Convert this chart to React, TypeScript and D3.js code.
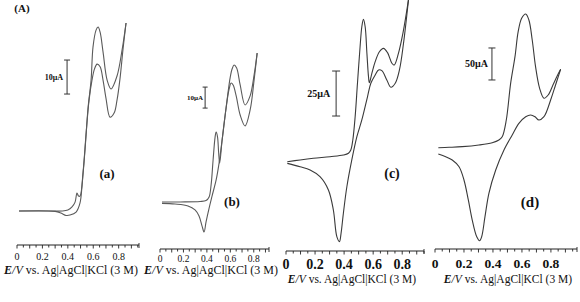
import React from "react";
import * as d3 from "d3";

type Pt = [number, number];

// potential (V) vs current (µA) for each voltammogram
const aForward: Pt[] = [
  [0.016, 0], [0.26, 0], [0.354, 0], [0.4, 0.3], [0.433, 1.2], [0.457, 2.6], [0.472, 5.3],
  [0.484, 4.4], [0.496, 4.4], [0.52, 11.5], [0.543, 22.4], [0.567, 32.6], [0.59, 38.5],
  [0.61, 41.8], [0.63, 43.2], [0.654, 42.4], [0.677, 38.5], [0.7, 33.2], [0.732, 27.6],
  [0.764, 28.8], [0.787, 32.6], [0.811, 39.1], [0.835, 47.9], [0.858, 55.3],
];
const aReverse: Pt[] = [
  [0.858, 55.3], [0.827, 47.4], [0.787, 39.7], [0.74, 35.9], [0.709, 38.5], [0.677, 46.8],
  [0.654, 52.6], [0.638, 54.1], [0.622, 53.2], [0.598, 48.2], [0.583, 38.5], [0.559, 30.3],
  [0.535, 17.9], [0.512, 7.6], [0.496, 2.4], [0.465, -0.3], [0.417, -1.2], [0.386, -1.3],
  [0.346, -0.6], [0.3, -0.1], [0.016, 0],
];
const bForward: Pt[] = [
  [0.017, 0.5], [0.171, 0.5], [0.342, 0.7], [0.393, 1.2], [0.419, 2.9], [0.436, 8.6],
  [0.453, 20.5], [0.47, 31.4], [0.479, 33.8], [0.491, 31.4], [0.5, 24.3], [0.509, 19.0],
  [0.53, 30], [0.556, 41.9], [0.581, 52.9], [0.598, 59.5], [0.615, 63.8], [0.632, 65.7],
  [0.654, 64.3], [0.684, 56.2], [0.726, 46.7], [0.769, 51], [0.803, 61], [0.829, 71.4],
];
const bReverse: Pt[] = [
  [0.829, 71.4], [0.803, 58.6], [0.769, 44.3], [0.726, 36.7], [0.684, 41.9], [0.65, 51],
  [0.624, 56.2], [0.607, 57.1], [0.59, 54.3], [0.564, 45.2], [0.53, 30], [0.504, 19],
  [0.479, 11], [0.444, 3.3], [0.419, -2.4], [0.393, -9], [0.376, -13.8], [0.359, -11],
  [0.333, -6.2], [0.299, -3.3], [0.239, -1.4], [0.128, -0.5], [0.017, -0.2],
];
const cForward: Pt[] = [
  [0.009, 0.7], [0.097, 1.7], [0.188, 2.6], [0.303, 3.5], [0.395, 4.4], [0.43, 5.4],
  [0.446, 7.2], [0.46, 12.8], [0.476, 25.7], [0.492, 44.3], [0.51, 64.6], [0.522, 75.7],
  [0.533, 79.8], [0.545, 75.7], [0.557, 60.9], [0.568, 47.9], [0.574, 44.6], [0.591, 49.8],
  [0.614, 56.3], [0.643, 61.8], [0.671, 63.7], [0.699, 61.3], [0.729, 55.4], [0.745, 54.4],
  [0.774, 60.9], [0.805, 72.1], [0.843, 90.6],
];
const cReverse: Pt[] = [
  [0.843, 90.6], [0.809, 66.5], [0.781, 51.7], [0.752, 44.3], [0.722, 42.1], [0.694, 46.1],
  [0.66, 51.3], [0.637, 51.7], [0.614, 48.9], [0.584, 44.3], [0.561, 36.8], [0.522, 23.9],
  [0.488, 14.6], [0.453, 1.7], [0.419, -13.2], [0.395, -27.9], [0.379, -39.1], [0.368, -43.7],
  [0.35, -40.9], [0.326, -26.1], [0.292, -15], [0.234, -7.6], [0.166, -3.9], [0.097, -2.1],
  [0.009, -0.2],
];
const dForward: Pt[] = [
  [0.023, 3.6], [0.097, 4.2], [0.188, 5.2], [0.303, 7.8], [0.395, 11.4], [0.441, 15.6],
  [0.464, 20.8], [0.492, 46.9], [0.522, 104.2], [0.552, 145.8], [0.574, 184.8], [0.598, 205.8],
  [0.626, 212.5], [0.648, 203.1], [0.671, 171.9], [0.694, 130.2], [0.722, 96.4], [0.752, 80.8],
  [0.781, 85.9], [0.814, 101.6], [0.843, 115.6], [0.867, 126.1],
];
const dReverse: Pt[] = [
  [0.867, 126.1], [0.832, 101.6], [0.798, 78.1], [0.752, 52], [0.717, 46.9], [0.69, 52],
  [0.66, 54.7], [0.626, 52], [0.579, 41.7], [0.533, 23.4], [0.476, 0], [0.419, -31.3],
  [0.372, -67.7], [0.345, -104.2], [0.322, -135.5], [0.308, -141.7], [0.288, -135.5],
  [0.257, -109.4], [0.23, -78.1], [0.2, -46.9], [0.166, -26.1], [0.119, -15.6], [0.074, -10.5],
  [0.023, -6.3],
];

const tickValues = [0, 0.2, 0.4, 0.6, 0.8];
const tickLabels = ["0", "0.2", "0.4", "0.6", "0.8"];
const panelLabels = ["(a)", "(b)", "(c)", "(d)"];
const scaleBarValues = [10, 10, 25, 50];
const scaleBarLabels = ["10µA", "10µA", "25µA", "50µA"];
const traces: Pt[][][] = [
  [aForward, aReverse],
  [bForward, bReverse],
  [cForward, cReverse],
  [dForward, dReverse],
];

const layouts = [
  { x0: 17, x1: 139, eMax: 0.96, yBase: 211, ppu: 3.4, axisY: 245, tickY: 260, tickSize: 10, tickBold: false,
    titleX: 71, titleY: 274, titleSize: 12, labelX: 107, labelY: 178, labelSize: 13,
    barE: 0.394, barI: 34.4, cap: 3, barLabelSize: 8, barGap: 4, color: "#5a5a5a" },
  { x0: 160, x1: 269, eMax: 0.93, yBase: 203, ppu: 2.1, axisY: 249, tickY: 262, tickSize: 9.5, tickBold: false,
    titleX: 211, titleY: 274, titleSize: 12, labelX: 232, labelY: 206, labelSize: 13,
    barE: 0.385, barI: 45.2, cap: 2.5, barLabelSize: 7, barGap: 2, color: "#5a5a5a" },
  { x0: 286, x1: 424, eMax: 0.95, yBase: 163, ppu: 1.8, axisY: 251, tickY: 269, tickSize: 14, tickBold: true,
    titleX: 352, titleY: 283, titleSize: 11.5, labelX: 392, labelY: 178, labelSize: 14,
    barE: 0.345, barI: 26.1, cap: 4, barLabelSize: 10, barGap: 6, color: "#3a3a3a" },
  { x0: 435, x1: 577, eMax: 0.98, yBase: 150, ppu: 0.64, axisY: 249, tickY: 268, tickSize: 13.5, tickBold: true,
    titleX: 508, titleY: 283, titleSize: 11.5, labelX: 530, labelY: 207, labelSize: 15,
    barE: 0.393, barI: 109.4, cap: 3.5, barLabelSize: 10, barGap: 4, color: "#3a3a3a" },
];

const serif = "'Liberation Serif', 'Times New Roman', serif";

function Panel({ idx }: { idx: number }) {
  const L = layouts[idx];
  const x = d3.scaleLinear().domain([0, L.eMax]).range([L.x0, L.x1]);
  const y = d3.scaleLinear().domain([0, 10]).range([L.yBase, L.yBase - 10 * L.ppu]);
  const line = d3
    .line<Pt>()
    .x((d) => x(d[0]))
    .y((d) => y(d[1]))
    .curve(d3.curveCatmullRom.alpha(0.5));
  const minor = d3.range(0, L.eMax + 1e-6, 0.05);
  const bx = x(L.barE);
  const by0 = y(L.barI);
  const by1 = y(L.barI + scaleBarValues[idx]);
  return (
    <g>
      {traces[idx].map((t, i) => (
        <path key={i} d={line(t) || ""} fill="none" stroke={L.color} strokeWidth={1.1} />
      ))}
      {/* axis */}
      <line x1={L.x0} x2={L.x1} y1={L.axisY} y2={L.axisY} stroke="#222" strokeWidth={1} />
      {minor.map((v, i) => (
        <line key={i} x1={x(v)} x2={x(v)} y1={L.axisY} y2={L.axisY + (i % 2 === 0 ? 3.5 : 2.5)} stroke="#222" strokeWidth={0.9} />
      ))}
      <line x1={L.x1} x2={L.x1} y1={L.axisY - 2} y2={L.axisY + 3} stroke="#222" strokeWidth={0.9} />
      {tickValues.map((v, i) => (
        <text key={i} x={x(v)} y={L.tickY} textAnchor="middle" fontFamily={serif} fontSize={L.tickSize}
          fontWeight={L.tickBold ? "bold" : "normal"} fill="#111">{tickLabels[i]}</text>
      ))}
      <text x={L.titleX} y={L.titleY} textAnchor="middle" fontFamily={serif} fontSize={L.titleSize} fill="#111">
        <tspan fontStyle="italic" fontWeight="bold">E</tspan>
        <tspan fontStyle="italic">/V</tspan>
        <tspan> vs. Ag|AgCl|KCl (3 M)</tspan>
      </text>
      {/* scale bar */}
      <line x1={bx} x2={bx} y1={by0} y2={by1} stroke="#333" strokeWidth={1} />
      <line x1={bx - L.cap} x2={bx + L.cap} y1={by0} y2={by0} stroke="#333" strokeWidth={1} />
      <line x1={bx - L.cap} x2={bx + L.cap} y1={by1} y2={by1} stroke="#333" strokeWidth={1} />
      <text x={bx - L.barGap} y={(by0 + by1) / 2 + L.barLabelSize * 0.35} textAnchor="end" fontFamily={serif}
        fontSize={L.barLabelSize} fontWeight="bold" fill="#111">{scaleBarLabels[idx]}</text>
      <text x={L.labelX} y={L.labelY} textAnchor="middle" fontFamily={serif} fontSize={L.labelSize}
        fontWeight="bold" fill="#111">{panelLabels[idx]}</text>
    </g>
  );
}

export default function App() {
  return (
    <svg width={580} height={302} style={{ position: "absolute", left: 0, top: 0, background: "#fff" }}>
      <rect width={580} height={302} fill="#fff" />
      <text x={22} y={12} textAnchor="middle" fontFamily={serif} fontSize={11} fontWeight="bold" fill="#111">(A)</text>
      {layouts.map((_, i) => (
        <Panel key={i} idx={i} />
      ))}
    </svg>
  );
}
